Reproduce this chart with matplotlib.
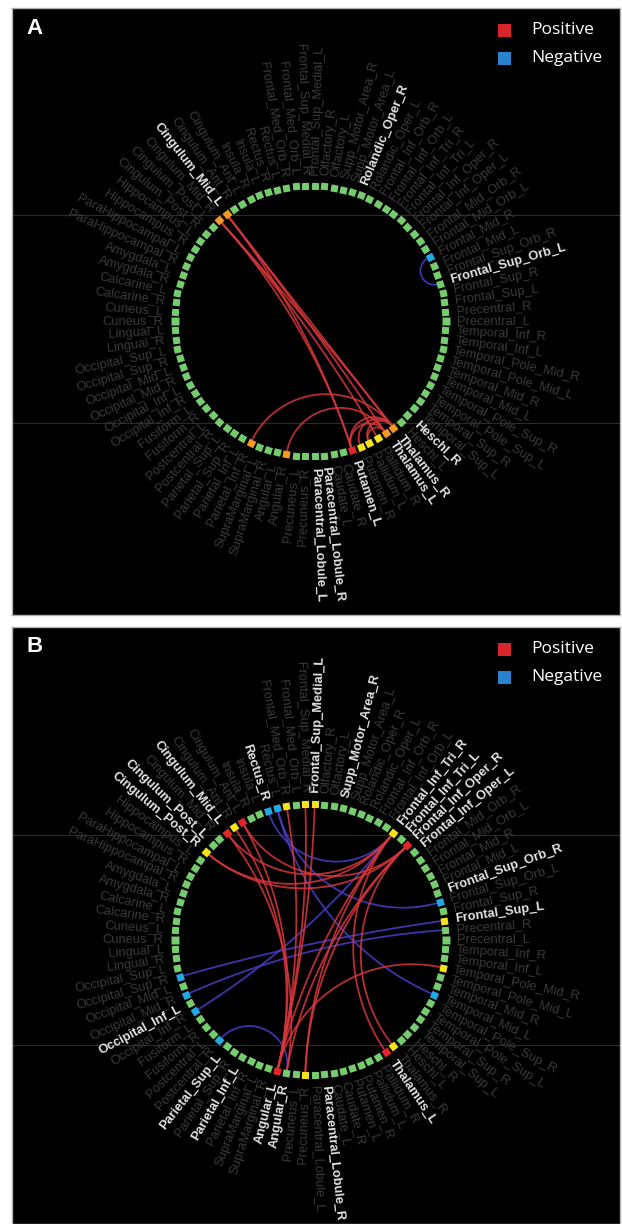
import numpy as np
import matplotlib
matplotlib.use("Agg")
import matplotlib.pyplot as plt
from matplotlib.patches import Rectangle

# AAL regions, placed counter-clockwise starting at 3 o'clock
regions = [
    "Precentral_L", "Precentral_R", "Frontal_Sup_L", "Frontal_Sup_R",
    "Frontal_Sup_Orb_L", "Frontal_Sup_Orb_R", "Frontal_Mid_L", "Frontal_Mid_R",
    "Frontal_Mid_Orb_L", "Frontal_Mid_Orb_R", "Frontal_Inf_Oper_L", "Frontal_Inf_Oper_R",
    "Frontal_Inf_Tri_L", "Frontal_Inf_Tri_R", "Frontal_Inf_Orb_L", "Frontal_Inf_Orb_R",
    "Rolandic_Oper_L", "Rolandic_Oper_R", "Supp_Motor_Area_L", "Supp_Motor_Area_R",
    "Olfactory_L", "Olfactory_R", "Frontal_Sup_Medial_L", "Frontal_Sup_Medial_R",
    "Frontal_Med_Orb_L", "Frontal_Med_Orb_R", "Rectus_L", "Rectus_R",
    "Insula_L", "Insula_R", "Cingulum_Ant_L", "Cingulum_Ant_R",
    "Cingulum_Mid_L", "Cingulum_Mid_R", "Cingulum_Post_L", "Cingulum_Post_R",
    "Hippocampus_L", "Hippocampus_R", "ParaHippocampal_L", "ParaHippocampal_R",
    "Amygdala_L", "Amygdala_R", "Calcarine_L", "Calcarine_R",
    "Cuneus_L", "Cuneus_R", "Lingual_L", "Lingual_R",
    "Occipital_Sup_L", "Occipital_Sup_R", "Occipital_Mid_L", "Occipital_Mid_R",
    "Occipital_Inf_L", "Occipital_Inf_R", "Fusiform_L", "Fusiform_R",
    "Postcentral_L", "Postcentral_R", "Parietal_Sup_L", "Parietal_Sup_R",
    "Parietal_Inf_L", "Parietal_Inf_R", "SupraMarginal_L", "SupraMarginal_R",
    "Angular_L", "Angular_R", "Precuneus_L", "Precuneus_R",
    "Paracentral_Lobule_L", "Paracentral_Lobule_R", "Caudate_L", "Caudate_R",
    "Putamen_L", "Putamen_R", "Pallidum_L", "Pallidum_R",
    "Thalamus_L", "Thalamus_R", "Heschl_L", "Heschl_R",
    "Temporal_Sup_L", "Temporal_Sup_R", "Temporal_Pole_Sup_L", "Temporal_Pole_Sup_R",
    "Temporal_Mid_L", "Temporal_Mid_R", "Temporal_Pole_Mid_L", "Temporal_Pole_Mid_R",
    "Temporal_Inf_L", "Temporal_Inf_R",
]

# ---- panel A
a_white_labels = ["Cingulum_Mid_L", "Rolandic_Oper_R", "Frontal_Sup_Orb_L", "Heschl_R",
                  "Thalamus_R", "Thalamus_L", "Putamen_L",
                  "Paracentral_Lobule_R", "Paracentral_Lobule_L"]
a_nodes = {"Cingulum_Mid_L": "orange", "Cingulum_Mid_R": "orange",
           "Frontal_Mid_R": "blue", "Parietal_Inf_R": "orange", "Angular_R": "orange",
           "Putamen_L": "red", "Putamen_R": "yellow", "Pallidum_L": "yellow",
           "Pallidum_R": "yellow", "Thalamus_L": "orange", "Thalamus_R": "orange"}
a_pos = [("Cingulum_Mid_L", "Putamen_L"), ("Cingulum_Mid_L", "Thalamus_L"),
         ("Cingulum_Mid_L", "Thalamus_R"), ("Cingulum_Mid_R", "Putamen_L"),
         ("Cingulum_Mid_R", "Pallidum_R"), ("Cingulum_Mid_R", "Thalamus_R"),
         ("Parietal_Inf_R", "Thalamus_R"), ("Angular_R", "Thalamus_L"),
         ("Putamen_L", "Thalamus_L"), ("Putamen_L", "Thalamus_R"),
         ("Putamen_R", "Thalamus_R"), ("Pallidum_L", "Thalamus_R"),
         ("Pallidum_L", "Thalamus_L")]
a_neg = [("Frontal_Mid_R", "Frontal_Sup_Orb_L")]

# ---- panel B
b_white_labels = ["Frontal_Sup_Medial_L", "Supp_Motor_Area_R", "Rectus_R", "Cingulum_Mid_L",
                  "Cingulum_Post_L", "Cingulum_Post_R", "Frontal_Inf_Tri_R",
                  "Frontal_Inf_Tri_L", "Frontal_Inf_Oper_R", "Frontal_Inf_Oper_L",
                  "Frontal_Sup_Orb_R", "Frontal_Sup_L", "Occipital_Inf_L", "Parietal_Sup_L",
                  "Parietal_Inf_L", "Angular_L", "Angular_R", "Paracentral_Lobule_R",
                  "Thalamus_L"]
b_nodes = {"Cingulum_Post_R": "yellow", "Cingulum_Mid_L": "red", "Cingulum_Ant_R": "yellow",
           "Cingulum_Ant_L": "red", "Rectus_R": "blue", "Rectus_L": "blue",
           "Frontal_Med_Orb_R": "yellow", "Frontal_Sup_Medial_R": "yellow",
           "Frontal_Sup_Medial_L": "yellow", "Frontal_Inf_Tri_R": "yellow",
           "Frontal_Inf_Oper_R": "red", "Frontal_Sup_Orb_L": "blue",
           "Frontal_Sup_L": "yellow", "Temporal_Pole_Mid_R": "yellow",
           "Temporal_Mid_L": "blue", "Thalamus_R": "yellow", "Thalamus_L": "red",
           "Occipital_Sup_R": "blue", "Occipital_Mid_R": "blue", "Occipital_Inf_R": "blue",
           "Postcentral_R": "blue", "Angular_L": "red", "Precuneus_R": "yellow"}
b_pos = [("Cingulum_Post_R", "Frontal_Inf_Tri_R"), ("Cingulum_Post_R", "Frontal_Inf_Oper_R"),
         ("Cingulum_Mid_L", "Frontal_Inf_Tri_R"), ("Cingulum_Ant_L", "Frontal_Inf_Oper_R"),
         ("Cingulum_Ant_R", "Angular_L"), ("Cingulum_Ant_L", "Angular_L"),
         ("Cingulum_Mid_L", "Angular_R"), ("Frontal_Sup_Medial_L", "Angular_L"),
         ("Frontal_Sup_Medial_R", "Angular_L"), ("Frontal_Med_Orb_R", "Angular_L"),
         ("Frontal_Inf_Tri_R", "Angular_L"), ("Frontal_Inf_Oper_R", "Angular_R"),
         ("Frontal_Inf_Tri_R", "Thalamus_L"), ("Frontal_Inf_Oper_R", "Thalamus_R"),
         ("Temporal_Pole_Mid_R", "Angular_L"), ("Precuneus_R", "Frontal_Inf_Oper_R"),
         ("Precuneus_R", "Frontal_Inf_Tri_R")]
b_neg = [("Rectus_R", "Frontal_Inf_Tri_R"), ("Rectus_L", "Frontal_Sup_Orb_L"),
         ("Occipital_Sup_R", "Frontal_Sup_L"), ("Occipital_Mid_R", "Precentral_R"),
         ("Occipital_Inf_R", "Frontal_Inf_Tri_R"), ("Postcentral_R", "Angular_R"),
         ("Temporal_Mid_L", "Rectus_L")]

node_cols = {"green": "#74cc6c", "orange": "#f59a22", "yellow": "#f3e21c",
             "red": "#e3262a", "blue": "#22a9e2"}
pos_col = "#d8373b"
neg_col = "#4a3ec8"

W, H = 622, 1224
R = 135.5
fig = plt.figure(figsize=(W / 100, H / 100), dpi=100)
fig.patch.set_facecolor("white")


def chord(a_deg, b_deg, n=120):
    a, b = np.radians(a_deg), np.radians(b_deg)
    u = np.array([np.cos(a), np.sin(a)])
    v = np.array([np.cos(b), np.sin(b)])
    d = abs((b - a + np.pi) % (2 * np.pi) - np.pi) / 2
    if np.pi / 2 - d < 0.03:
        t = np.linspace(0, 1, n)
        return np.outer(u, 1 - t) + np.outer(v, t)
    m = (u + v) / np.linalg.norm(u + v)
    c = m / np.cos(d)
    r = np.tan(d)
    pu = np.arctan2(u[1] - c[1], u[0] - c[0])
    pv = np.arctan2(v[1] - c[1], v[0] - c[0])
    dp = (pv - pu + np.pi) % (2 * np.pi) - np.pi
    ph = pu + dp * np.linspace(0, 1, n)
    return np.array([c[0] + r * np.cos(ph), c[1] + r * np.sin(ph)])


def panel(box, center, letter, white_labels, nodes, pos, neg, hlines):
    x0, y0, w, h = box
    cx, cy = center
    ax = fig.add_axes([x0 / W, 1 - (y0 + h) / H, w / W, h / H])
    ax.set_xlim(x0 - cx, x0 + w - cx)
    ax.set_ylim(cy - (y0 + h), cy - y0)
    ax.set_facecolor("black")
    ax.set_xticks([])
    ax.set_yticks([])
    for s in ax.spines.values():
        s.set_color("#b0b0b0")
        s.set_linewidth(1.0)

    for yy in hlines:
        ax.axhline(cy - yy, color="#2b2b2b", lw=0.8, zorder=0)

    ang = {name: 4.0 * i for i, name in enumerate(regions)}

    for (p, q), col in [(e, neg_col) for e in neg] + [(e, pos_col) for e in pos]:
        xy = chord(ang[p], ang[q]) * (R - 2)
        ax.plot(xy[0], xy[1], color=col, lw=1.3, alpha=0.85, zorder=2,
                solid_capstyle="round")

    for name in regions:
        t = ang[name]
        col = node_cols[nodes.get(name, "green")]
        ax.plot(R * np.cos(np.radians(t)), R * np.sin(np.radians(t)),
                marker=(4, 0, t + 45), ms=7.2, color=col, mec="none", zorder=3)

        tt = (t + 180) % 360 - 180
        rl = R + 11
        hot = name in white_labels
        if -90 < tt < 90:
            rot, ha = tt, "left"
        else:
            rot, ha = tt - 180, "right"
        ax.text(rl * np.cos(np.radians(t)), rl * np.sin(np.radians(t)), name,
                rotation=rot, ha=ha, va="center", rotation_mode="anchor",
                fontsize=9.3, family="Liberation Sans",
                fontweight="bold" if hot else "normal",
                color="#e4e4e4" if hot else "#3a3a3a", zorder=4)

    # panel letter and legend
    ax.text(x0 + 14 - cx, cy - (y0 + 20), letter, fontsize=16, fontweight="bold",
            color="white", ha="left", va="center", family="Liberation Sans")
    for k, (lab, col) in enumerate([("Positive", "#d7262b"), ("Negative", "#2a82cc")]):
        yy = cy - (y0 + 22 + 28 * k)
        ax.add_patch(Rectangle((498 - cx, yy - 6.5), 13, 13, color=col, lw=0))
        ax.text(531 - cx, yy, lab, fontsize=12.5, color="white", ha="left",
                va="center", family="Open Sans")
    return ax


panel((12, 8, 608, 607), (310, 321), "A", a_white_labels, a_nodes, a_pos, a_neg,
      [215, 423])
panel((12, 627, 608, 597), (310, 939.5), "B", b_white_labels, b_nodes, b_pos, b_neg,
      [835, 1045])

fig.savefig("out.png", dpi=100, facecolor="white")
